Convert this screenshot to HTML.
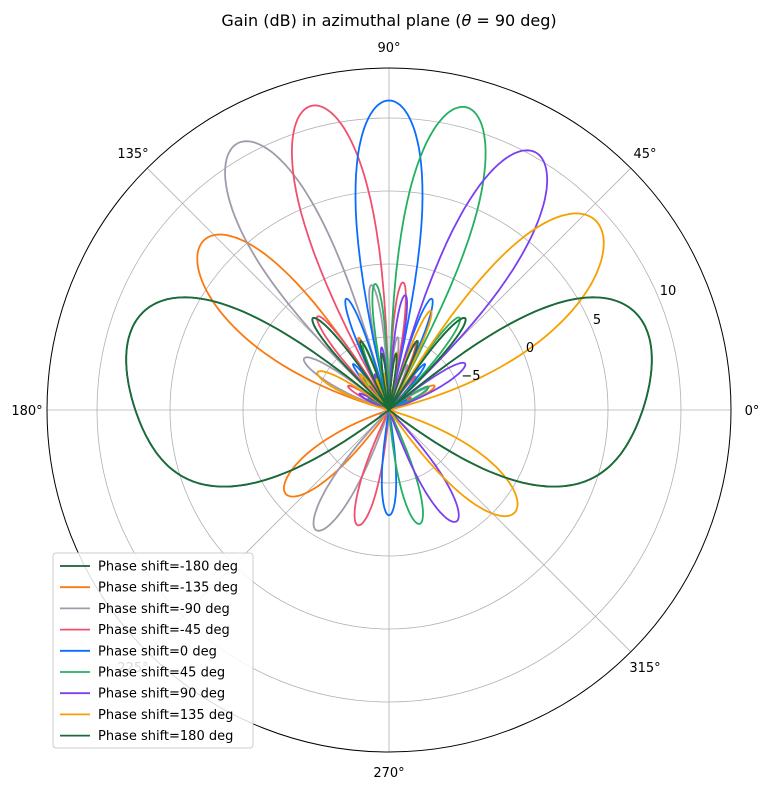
<!DOCTYPE html>
<html><head><meta charset="utf-8"><style>
html,body{margin:0;padding:0;background:#fff;}
svg text{font-family:"DejaVu Sans","Liberation Sans",sans-serif;}
</style></head><body>
<svg id="s" width="769" height="790" viewBox="0 0 769 790" xmlns="http://www.w3.org/2000/svg">
<rect width="769" height="790" fill="#fff"/>
<g id="grid" stroke="#b0b0b0" stroke-width="0.8" fill="none">
<circle cx="389" cy="410" r="73"/><circle cx="389" cy="410" r="146"/><circle cx="389" cy="410" r="219"/><circle cx="389" cy="410" r="292"/>
<line x1="389" y1="410" x2="731" y2="410"/><line x1="389" y1="410" x2="630.8" y2="168.2"/><line x1="389" y1="410" x2="389" y2="68"/><line x1="389" y1="410" x2="147.2" y2="168.2"/><line x1="389" y1="410" x2="47" y2="410"/><line x1="389" y1="410" x2="147.2" y2="651.8"/><line x1="389" y1="410" x2="389" y2="752"/><line x1="389" y1="410" x2="630.8" y2="651.8"/>
</g>
<g id="curves" fill="none" stroke-width="1.8" stroke-linejoin="round"></g>
<circle cx="389" cy="410" r="342" fill="none" stroke="#000" stroke-width="1"/>
<g font-size="13" fill="#000" text-anchor="middle">
<text x="752" y="415">0°</text><text x="645" y="158">45°</text><text x="389" y="52">90°</text><text x="133" y="158">135°</text><text x="27" y="415">180°</text><text x="133" y="672">225°</text><text x="389" y="777">270°</text><text x="645" y="672">315°</text>
<text x="471" y="380">−5</text><text x="530" y="352">0</text><text x="597" y="324">5</text><text x="668" y="295">10</text>
</g>
<text x="389" y="26" font-size="16" text-anchor="middle">Gain (dB) in azimuthal plane (<tspan font-style="italic">θ</tspan> = 90 deg)</text>
<g id="legend">
<rect x="53" y="553" width="200" height="195" rx="3" fill="#fff" fill-opacity="0.85" stroke="#ccc"/>
</g>
</svg>
<script>
var series=[
["Phase shift=-180 deg","#155f35",-180,8.5],
["Phase shift=-135 deg","#f97a10",-135,7.2],
["Phase shift=-90 deg","#a09aab",-90,11],
["Phase shift=-45 deg","#f0506e",-45,11.5],
["Phase shift=0 deg","#0a6cff",0,11.2],
["Phase shift=45 deg","#22b060",45,11.4],
["Phase shift=90 deg","#7a3ff0",90,10.3],
["Phase shift=135 deg","#f5a000",135,9.2],
["Phase shift=180 deg","#1b6b3a",180,8.5]];
var N=8,a=0.667,cx=389,cy=410,ns="http://www.w3.org/2000/svg";
var g=document.getElementById("curves"),lg=document.getElementById("legend");
series.forEach(function(s,i){
  var b=s[2]*Math.PI/180,vals=[],mx=-1e9;
  for(var k=0;k<=720;k++){
    var ph=k*Math.PI/360,psi=Math.PI*Math.cos(ph)-b;
    var den=N*Math.sin(psi/2),af=Math.abs(den)<1e-9?1:Math.abs(Math.sin(N*psi/2)/den);
    var E=(1+a*Math.sin(ph))/(1+a);
    var v=20*Math.log10(Math.max(af*E,1e-6));vals.push(v);if(v>mx)mx=v;}
  var d="";
  for(var k=0;k<=720;k++){
    var ph=k*Math.PI/360,db=vals[k]-mx+s[3];
    var r=Math.max(0,(db+10)*14.6);
    d+=(k?"L":"M")+(cx+r*Math.cos(ph)).toFixed(1)+" "+(cy-r*Math.sin(ph)).toFixed(1);}
  var p=document.createElementNS(ns,"path");p.setAttribute("d",d);p.setAttribute("stroke",s[1]);g.appendChild(p);
  var y=566+i*21.2;
  var l=document.createElementNS(ns,"line");l.setAttribute("x1",60);l.setAttribute("x2",90);l.setAttribute("y1",y);l.setAttribute("y2",y);l.setAttribute("stroke",s[1]);l.setAttribute("stroke-width",1.8);lg.appendChild(l);
  var t=document.createElementNS(ns,"text");t.setAttribute("x",98);t.setAttribute("y",y+4.5);t.setAttribute("font-size","13");t.textContent=s[0];lg.appendChild(t);
});
</script>
</body></html>
